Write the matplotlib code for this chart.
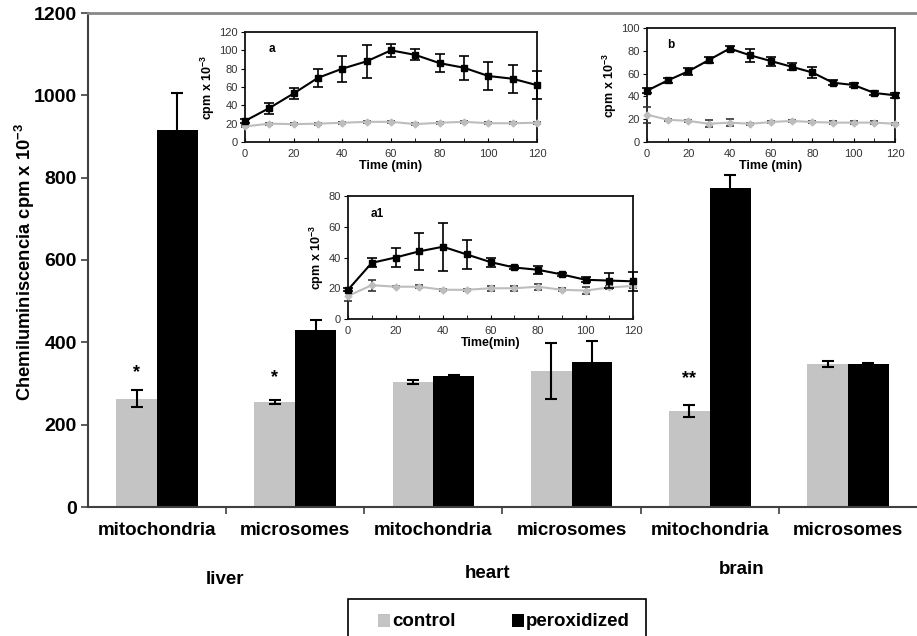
import matplotlib
matplotlib.use("Agg")
import matplotlib.pyplot as plt
import numpy as np
from matplotlib.patches import Rectangle

plt.rcParams['font.family'] = ['Liberation Sans', 'DejaVu Sans']
plt.rcParams['mathtext.fontset'] = 'custom'
plt.rcParams['mathtext.rm'] = 'Liberation Sans'
plt.rcParams['mathtext.bf'] = 'Liberation Sans:bold'
plt.rcParams['mathtext.default'] = 'bf'

# ---------------- main bar data ----------------
fractions = ["mitochondria", "microsomes", "mitochondria", "microsomes", "mitochondria", "microsomes"]
organs = ["liver", "heart", "brain"]
control = [263, 256, 303, 330, 233, 348]
control_err = [20, 5, 5, 68, 14, 7]
peroxidized = [917, 431, 318, 353, 774, 348]
peroxidized_err = [89, 24, 2, 51, 32, 1]
marks = ["*", "*", "", "", "**", ""]
mark_y = [327, 314, 0, 0, 312, 0]
yticks_main = [0, 200, 400, 600, 800, 1000, 1200]
legend_labels = ["control", "peroxidized"]

# ---------------- inset a (liver mitochondria kinetics) ----------------
t = [0, 10, 20, 30, 40, 50, 60, 70, 80, 90, 100, 110, 120]
a_perox = [23, 37, 53, 70, 80, 88, 100, 95, 86, 81, 72, 69, 62]
a_perox_err = [2, 6, 6, 10, 14, 18, 7, 6, 10, 13, 15, 15, 15]
a_ctrl = [17, 20, 19.5, 20, 21, 22, 22, 19.5, 21, 22, 20.5, 20.5, 21]
a_ctrl_err = [1, 1, 1, 1, 1, 1, 1, 1, 1, 1, 1, 1, 1]

# ---------------- inset b (brain mitochondria kinetics) ----------------
b_perox = [45, 54, 62, 72, 82, 76, 71, 66, 61, 52, 50, 43, 41]
b_perox_err = [2, 2, 3, 3, 2, 6, 4, 3, 5, 2, 2, 2, 2]
b_ctrl = [24, 19.5, 18.5, 16, 17, 16, 17.5, 18.5, 17.5, 17, 17, 17, 16]
b_ctrl_err = [7, 1, 1, 3, 3, 1, 1, 1, 1, 1, 1, 1, 1]

# ---------------- inset a1 ----------------
a1_perox = [19, 36.5, 40, 44, 47, 42, 37, 33.5, 32, 29, 25.5, 25, 24.5]
a1_perox_err = [1, 3, 6, 12, 15.5, 9.5, 3, 1, 2.5, 1, 1.5, 5, 6]
a1_ctrl = [15, 22, 21, 21, 19, 19, 20, 20, 21, 19, 18.5, 20.5, 21.5]
a1_ctrl_err = [3, 3.5, 0.5, 1, 0.5, 0.5, 1.5, 1.5, 2, 1, 2, 1, 1.5]

GRAY = "#c4c4c4"
W, H = 917, 636
fig = plt.figure(figsize=(W / 100, H / 100), dpi=100)

def fx(px):
    return px / W

def fy(py):
    return 1 - py / H

# main axes
ax = fig.add_axes([fx(88), fy(507), fx(917 - 88), (507 - 13) / H])
x = np.arange(len(fractions))
bw = 0.295
ax.bar(x - bw / 2, control, bw, color=GRAY, zorder=2)
ax.bar(x + bw / 2, peroxidized, bw, color="black", zorder=2)
ax.errorbar(x - bw / 2, control, yerr=control_err, fmt="none", ecolor="black",
            elinewidth=1.5, capsize=4, capthick=1.5, zorder=3)
ax.errorbar(x + bw / 2, peroxidized, yerr=peroxidized_err, fmt="none", ecolor="black",
            elinewidth=1.5, capsize=4, capthick=1.5, zorder=3)
for xi, m, my in zip(x, marks, mark_y):
    if m:
        ax.text(xi - bw / 2, my, m, ha="center", va="center", fontsize=13, fontweight="bold")

ax.set_xlim(-0.5, len(fractions) - 0.5)
ax.set_ylim(0, 1200)
ax.set_yticks(yticks_main)
ax.set_yticklabels([str(v) for v in yticks_main], fontsize=14, fontweight="bold")
ax.set_xticks(x[:-1] + 0.5)
ax.set_xticklabels([])
ax.set_xticks(x, minor=True)
ax.set_xticklabels(fractions, minor=True, fontsize=13.5, fontweight="bold")
ax.tick_params(axis="x", which="minor", length=0, pad=11)
ax.tick_params(axis="x", which="major", length=5, width=1.2, color="#404040")
ax.tick_params(axis="y", length=5, width=1.2, color="#404040", pad=3)
for s in ["left", "bottom"]:
    ax.spines[s].set_color("#404040")
    ax.spines[s].set_linewidth(1.5)
ax.spines["top"].set_color("#888888")
ax.spines["top"].set_linewidth(2)
ax.spines["right"].set_visible(False)

fig.text(fx(25), fy(262), "Chemiluminiscencia cpm x 10$^{-3}$", rotation=90,
         ha="center", va="center", fontsize=13.2, fontweight="bold")

for name, (px, py) in zip(organs, [(225, 579), (488, 574), (742, 569)]):
    fig.text(fx(px), fy(py), name, ha="center", va="center", fontsize=13.5, fontweight="bold")

# legend box (bottom edge runs off the figure, as in the reference)
fig.add_artist(Rectangle((fx(348), fy(660)), fx(646 - 348), (660 - 599) / H,
                         transform=fig.transFigure, facecolor="white", edgecolor="black",
                         linewidth=1.2, clip_on=False))
for lab, col, px0 in zip(legend_labels, [GRAY, "black"], [378, 512]):
    fig.add_artist(Rectangle((fx(px0), fy(627)), fx(12), 13 / H, transform=fig.transFigure,
                             facecolor=col, edgecolor="none"))
    fig.text(fx(px0 + 14), fy(621), lab, ha="left", va="center", fontsize=13.5, fontweight="bold")


def inset(rect, perox, perox_err, ctrl, ctrl_err, ymax, label, xlabel):
    ia = fig.add_axes(rect)
    ia.set_facecolor("white")
    ia.errorbar(t, ctrl, yerr=ctrl_err, color="#bdbdbd", marker="D", markersize=3.5,
                lw=1.5, elinewidth=1.2, capsize=3, capthick=1.2, ecolor="#333333", clip_on=False, zorder=3)
    ia.errorbar(t, perox, yerr=perox_err, color="black", marker="s", markersize=5,
                lw=1.5, elinewidth=1.2, capsize=3.5, capthick=1.2, clip_on=False, zorder=4)
    ia.set_xlim(0, 120)
    ia.set_ylim(0, ymax)
    ia.set_xticks(range(0, 121, 20))
    ia.set_xticks(range(0, 121, 10), minor=True)
    ia.set_yticks(range(0, ymax + 1, 20))
    ia.tick_params(axis="x", which="both", direction="in", length=3, labelsize=8,
                   labelcolor="#333333", pad=5)
    ia.tick_params(axis="y", direction="out", length=3, labelsize=8, labelcolor="#333333", pad=2)
    for s in ia.spines.values():
        s.set_linewidth(1.3)
        s.set_color("#111111")
    ia.set_ylabel("cpm x 10$^{-3}$", fontsize=9, fontweight="bold", labelpad=2)
    ia.set_xlabel(xlabel, fontsize=9, fontweight="bold", labelpad=1)
    ia.text(0.08, 0.9, label, transform=ia.transAxes, ha="left", va="top",
            fontsize=8.5, fontweight="bold")
    return ia

inset([fx(245), fy(142), fx(537 - 245), (142 - 32) / H], a_perox, a_perox_err, a_ctrl, a_ctrl_err,
      120, "a", "Time (min)")
inset([fx(647), fy(142), fx(895 - 647), (142 - 28) / H], b_perox, b_perox_err, b_ctrl, b_ctrl_err,
      100, "b", "Time (min)")
inset([fx(348), fy(319), fx(633 - 348), (319 - 196) / H], a1_perox, a1_perox_err, a1_ctrl, a1_ctrl_err,
      80, "a1", "Time(min)")

fig.savefig("out.png", dpi=100)
